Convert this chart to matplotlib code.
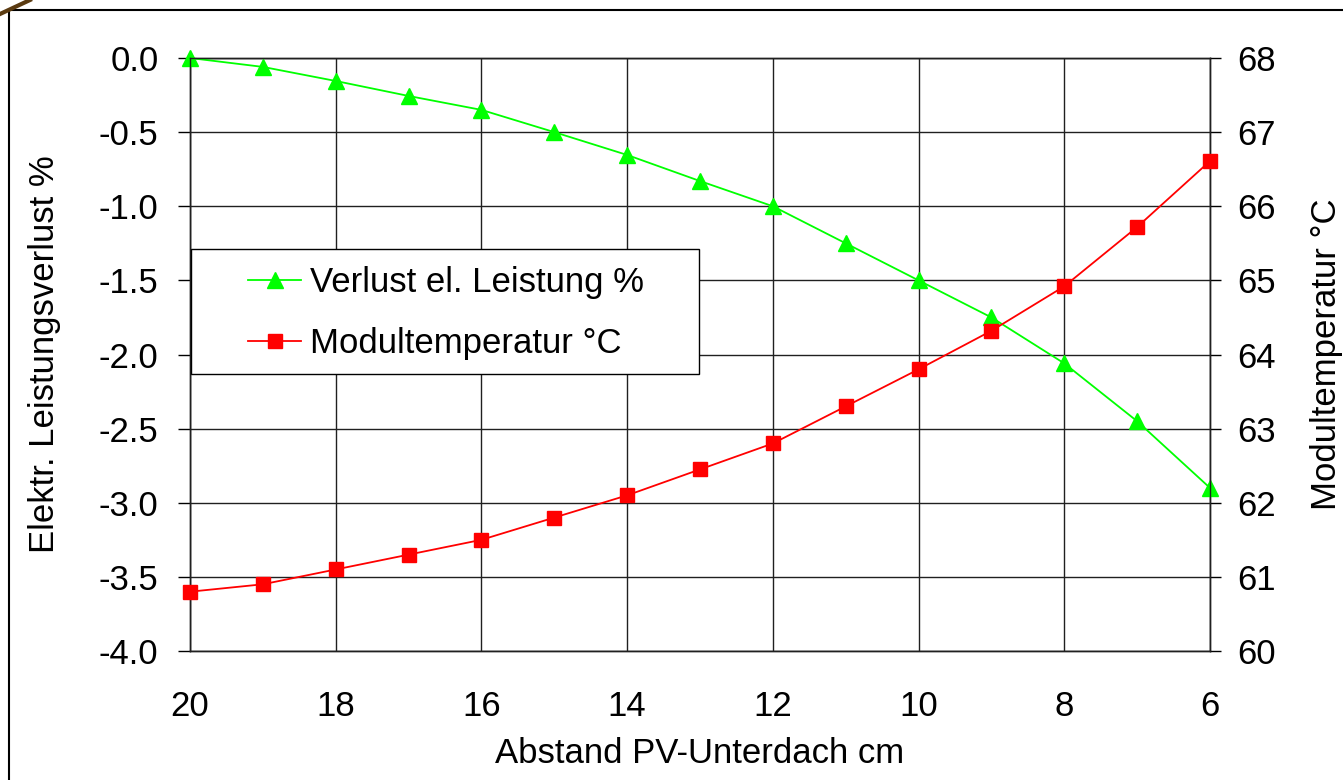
import matplotlib.pyplot as plt
from matplotlib.lines import Line2D
from matplotlib.patches import Rectangle

plt.rcParams['font.family'] = ['Liberation Sans', 'DejaVu Sans']

# Abstand PV-Unterdach in cm
abstand = [20, 19, 18, 17, 16, 15, 14, 13, 12, 11, 10, 9, 8, 7, 6]
# Verlust el. Leistung %
verlust = [0.0, -0.06, -0.155, -0.256, -0.35, -0.50, -0.654, -0.83, -1.0,
           -1.25, -1.50, -1.75, -2.06, -2.45, -2.90]
# Modultemperatur °C
temperatur = [60.8, 60.9, 61.1, 61.3, 61.5, 61.8, 62.1, 62.45, 62.8,
              63.3, 63.8, 64.32, 64.92, 65.72, 66.61]
y_ticks = [0.0, -0.5, -1.0, -1.5, -2.0, -2.5, -3.0, -3.5, -4.0]
y_labels = ['0.0', '-0.5', '-1.0', '-1.5', '-2.0', '-2.5', '-3.0', '-3.5', '-4.0']

W, H = 1343, 780
L, R, T, B = 190, 1210, 58, 651
fig = plt.figure(figsize=(W / 100, H / 100), dpi=100)
ax = fig.add_axes([L / W, 1 - B / H, (R - L) / W, (B - T) / H])
ax2 = ax.twinx()

fs = 25

ax.plot(abstand, verlust, color='#00ff00', lw=1.3, marker='^', ms=12,
        clip_on=False, zorder=3)
ax2.plot(abstand, temperatur, color='#ff0000', lw=1.3, marker='s', ms=9.5,
         clip_on=False, zorder=3)

ax.set_xlim(20, 6)
ax.set_ylim(-4.0, 0.0)
ax2.set_ylim(60, 68)
ax.set_xticks(range(20, 5, -2))
ax.set_yticks(y_ticks)
ax.set_yticklabels(y_labels)
ax2.set_yticks(range(60, 69))

ax.grid(True, color='#202020', lw=1)
ax.set_axisbelow(True)
for a in (ax, ax2):
    for s in a.spines.values():
        s.set_color('#202020')
        s.set_linewidth(1)
ax.tick_params(axis='y', labelsize=fs, length=8.6, width=1, pad=14)
ax.tick_params(axis='x', labelsize=fs, length=0, width=1, pad=28)
ax2.tick_params(axis='y', labelsize=fs, length=8, width=1, pad=11.5)

ax.set_xlabel('Abstand PV-Unterdach cm', fontsize=fs, labelpad=10)
ax.set_ylabel('Elektr. Leistungsverlust %', fontsize=fs, labelpad=27)
ax2.set_ylabel('Modultemperatur °C', fontsize=fs, labelpad=25)

# legend box drawn separately, entries placed inside it
box = Rectangle((191 / W, 1 - 374 / H), 508 / W, 125 / H, transform=fig.transFigure,
                facecolor='white', edgecolor='black', lw=1, zorder=4)
ax2.add_artist(box)

handles = [
    Line2D([], [], color='#00ff00', lw=1.3, marker='^', ms=12),
    Line2D([], [], color='#ff0000', lw=1.3, marker='s', ms=9.5),
]
leg = ax2.legend(handles, ['Verlust el. Leistung %', 'Modultemperatur °C'],
                 loc='center left', bbox_to_anchor=(248 / W, 1 - 313 / H),
                 bbox_transform=fig.transFigure,
                 fontsize=fs, frameon=False, handlelength=1.53,
                 handletextpad=0.26, borderpad=0, labelspacing=0.8,
                 borderaxespad=0)
leg.set_zorder(5)

# outer frame (cut off at right and bottom)
fig.add_artist(Line2D([9 / W, 9 / W], [0, 1 - 10 / H], color='black', lw=1.5))
fig.add_artist(Line2D([9 / W, 1], [1 - 10 / H, 1 - 10 / H], color='black', lw=1.5))
fig.add_artist(Line2D([0, 30 / W], [1 - 14 / H, 1], color='#5a3a10', lw=3))

fig.savefig('out.png', dpi=100)
